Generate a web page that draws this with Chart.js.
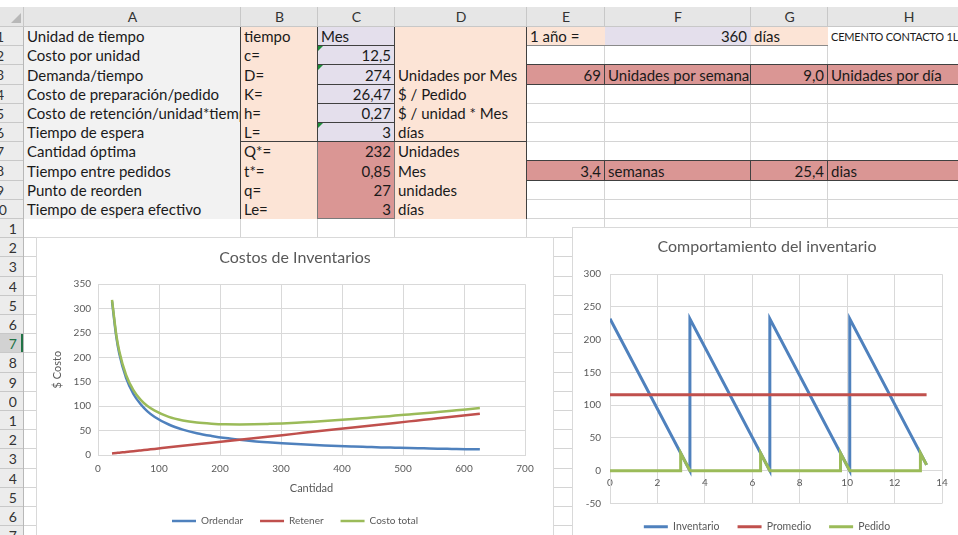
<!DOCTYPE html>
<html>
<head>
<meta charset="utf-8">
<script src="https://cdn.jsdelivr.net/npm/chart.js@4.4.1/dist/chart.umd.min.js"></script>
<style>
	body { margin: 0; width: 958px; height: 535px; overflow: hidden; background: #fff; position: relative; font-family: Lato, "Open Sans", sans-serif; }
	.c { position: absolute; box-sizing: border-box; overflow: hidden; white-space: nowrap; font-size: 15px; color: #1a1a1a; padding: 0 3px; }
	.r { text-align: right; }
	.box { position: absolute; background: #fff; border: 1px solid #d9d9d9; box-sizing: border-box; }
</style>
</head>
<body>
<div id="sheet"></div>
<div class="box" style="left:36px; top:237px; width:518px; height:310px;">
	<canvas id="chartCostos" width="516" height="305"></canvas>
</div>
<div class="box" style="left:572px; top:227px; width:390px; height:330px;">
	<canvas id="chartInventario" width="388" height="323"></canvas>
</div>
<script>
// ---- datos del grafico "Costos de Inventarios" ----
const cantidad = [23, 30, 35, 46, 58, 70, 81, 93, 116, 139, 162, 186, 209, 232, 255, 278, 302, 325, 348, 371, 394, 418, 441, 464, 487, 510, 534, 557, 580, 603, 626];
const costoOrdenar = [315, 242, 207, 158, 125, 104, 89.5, 78, 62.5, 52.1, 44.7, 39.1, 34.7, 31.3, 28.4, 26.1, 24.0, 22.3, 20.8, 19.5, 18.4, 17.4, 16.5, 15.6, 14.9, 14.2, 13.6, 13.0, 12.5, 12.0, 11.6];
const costoRetener = [3.1, 4.1, 4.7, 6.3, 7.8, 9.4, 10.9, 12.5, 15.7, 18.8, 21.9, 25.1, 28.2, 31.3, 34.5, 37.6, 40.7, 43.8, 47.0, 50.1, 53.2, 56.4, 59.5, 62.6, 65.8, 68.9, 72.0, 75.2, 78.3, 81.4, 84.6];
const costoTotal = [318, 246, 212, 164, 133, 113, 100.4, 91, 78.2, 70.9, 66.6, 64.2, 62.9, 62.6, 62.9, 63.7, 64.7, 66.1, 67.8, 69.6, 71.6, 73.8, 76.0, 78.2, 80.7, 83.1, 85.6, 88.2, 90.8, 93.4, 96.2];

// ---- datos del grafico "Comportamiento del inventario" (semanas) ----
const invSemana = [0, 3.37, 3.37, 6.74, 6.74, 10.11, 10.11, 13.35];
const invValor = [232, 0, 232, 0, 232, 0, 232, 9];
const promSemana = [0, 13.35];
const promValor = [116, 116];
const pedSemana = [0, 2.98, 2.98, 3.37, 6.35, 6.35, 6.74, 9.72, 9.72, 10.11, 13.09, 13.09, 13.35];
const pedValor = [0, 0, 27, 0, 0, 27, 0, 0, 27, 0, 0, 27, 9];

// ---- hoja de calculo ----
const colEdges = [24, 241, 318, 395, 527, 605, 751, 828, 990];
const colNames = ["A", "B", "C", "D", "E", "F", "G", "H"];
const NROWS = 27;

const cells = [
	["A", 1, "Unidad de tiempo"], ["B", 1, "tiempo"], ["C", 1, "Mes"], ["E", 1, "1 año ="], ["F", 1, "360", "r"], ["G", 1, "días"], ["H", 1, "CEMENTO CONTACTO 1L", "s"],
	["A", 2, "Costo por unidad"], ["B", 2, "c="], ["C", 2, "12,5", "r"],
	["A", 3, "Demanda/tiempo"], ["B", 3, "D="], ["C", 3, "274", "r"], ["D", 3, "Unidades por Mes"], ["E", 3, "69", "r"], ["F", 3, "Unidades por semana"], ["G", 3, "9,0", "r"], ["H", 3, "Unidades por día"],
	["A", 4, "Costo de preparación/pedido"], ["B", 4, "K="], ["C", 4, "26,47", "r"], ["D", 4, "$ / Pedido"],
	["A", 5, "Costo de retención/unidad*tiempo"], ["B", 5, "h="], ["C", 5, "0,27", "r"], ["D", 5, "$ / unidad * Mes"],
	["A", 6, "Tiempo de espera"], ["B", 6, "L="], ["C", 6, "3", "r"], ["D", 6, "días"],
	["A", 7, "Cantidad óptima"], ["B", 7, "Q*="], ["C", 7, "232", "r"], ["D", 7, "Unidades"],
	["A", 8, "Tiempo entre pedidos"], ["B", 8, "t*="], ["C", 8, "0,85", "r"], ["D", 8, "Mes"], ["E", 8, "3,4", "r"], ["F", 8, "semanas"], ["G", 8, "25,4", "r"], ["H", 8, "dias"],
	["A", 9, "Punto de reorden"], ["B", 9, "q="], ["C", 9, "27", "r"], ["D", 9, "unidades"],
	["A", 10, "Tiempo de espera efectivo"], ["B", 10, "Le="], ["C", 10, "3", "r"], ["D", 10, "días"],
];

const sheet = document.getElementById("sheet");

function rowY(r) {
	return Math.round(27 + 19.2 * (r - 1));
}
function colX(name) {
	return colEdges[colNames.indexOf(name)];
}
function colX2(name) {
	return colEdges[colNames.indexOf(name) + 1];
}
function rect(x, y, w, h, bg) {
	const d = document.createElement("div");
	d.style.cssText = `position:absolute;box-sizing:border-box;left:${x}px;top:${y}px;width:${w}px;height:${h}px;background:${bg};`;
	sheet.appendChild(d);
	return d;
}
function fill(c1, c2, r1, r2, bg) {
	const x = colX(c1), y = rowY(r1);
	rect(x, y, colX2(c2) - x, rowY(r2 + 1) - y, bg);
}
function frame(c1, c2, r1, r2, color) {
	const x = colX(c1), y = rowY(r1), w = colX2(c2) - x, h = rowY(r2 + 1) - y;
	const d = rect(x - 1, y - 1, w + 1, h + 1, "transparent");
	d.style.border = "1px solid " + color;
}

// lineas de cuadricula
colEdges.forEach((x) => rect(x - 1, 7, 1, 528, "#d4d4d4"));
for (let r = 1; r <= NROWS + 1; r++) rect(0, rowY(r) - 1, 958, 1, "#d4d4d4");

// rellenos
const peach = "#fce4d6", lav = "#e4dfec", rosa = "#da9694";
fill("A", "A", 1, 10, "#f2f2f2");
fill("B", "B", 1, 10, peach);
fill("C", "C", 1, 6, lav);
fill("C", "C", 7, 10, rosa);
fill("D", "D", 1, 10, peach);
fill("E", "E", 1, 1, peach);
fill("F", "F", 1, 1, lav);
fill("G", "G", 1, 1, peach);
fill("H", "H", 1, 1, "#fff");
fill("E", "H", 3, 3, rosa);
fill("E", "H", 8, 8, rosa);

// bordes
const dark = "#404040";
for (let r = 1; r <= 6; r++) frame("C", "C", r, r, dark);
frame("C", "C", 7, 10, "#7a7a7a");
rect(colX("B") - 1, rowY(1), 1, rowY(11) - rowY(1), dark);
rect(colX("E") - 1, rowY(1), 1, rowY(11) - rowY(1), dark);
rect(colX("B"), rowY(7) - 1, colX("E") - colX("B"), 1, dark);
["E", "F", "G", "H"].forEach((c) => {
	frame(c, c, 3, 3, dark);
	frame(c, c, 8, 8, dark);
});
rect(colX("E"), rowY(2) - 1, colX("H") - colX("E"), 1, "#8a8a8a");

// triangulos verdes
[2, 3, 6].forEach((r) => {
	const t = rect(colX("C"), rowY(r), 6, 6, "transparent");
	t.style.borderTop = "5px solid #1e8c3a";
	t.style.borderRight = "5px solid transparent";
	t.style.width = "0px";
	t.style.height = "0px";
	t.style.boxSizing = "content-box";
});

// textos de celdas
cells.forEach(([c, r, text, kind]) => {
	const d = document.createElement("div");
	d.className = "c" + (kind === "r" ? " r" : "");
	const x = colX(c), y = rowY(r);
	d.style.left = x + "px";
	d.style.top = y + "px";
	d.style.width = (colX2(c) - x - 1) + "px";
	d.style.height = (rowY(r + 1) - y - 1) + "px";
	d.style.lineHeight = (rowY(r + 1) - y) + "px";
	if (kind === "s") {
		d.style.fontSize = "11px";
		d.style.letterSpacing = "-0.2px";
	}
	d.textContent = text;
	sheet.appendChild(d);
});

// encabezado de columnas
rect(0, 7, 958, 20, "#e6e6e6");
rect(0, 26, 958, 1, "#c8c8c8");
colNames.forEach((n, i) => {
	rect(colEdges[i] - 1, 7, 1, 20, "#c8c8c8");
	const d = document.createElement("div");
	d.className = "c";
	d.style.cssText += `left:${colEdges[i]}px;top:7px;width:${colEdges[i + 1] - colEdges[i]}px;height:20px;line-height:20px;text-align:center;color:#333;font-size:14px;`;
	d.textContent = n;
	sheet.appendChild(d);
});
const corner = rect(11, 13, 0, 0, "transparent");
corner.style.boxSizing = "content-box";
corner.style.borderLeft = "10px solid transparent";
corner.style.borderBottom = "10px solid #b8b8b8";

// encabezado de filas (recortado a la izquierda, solo se ve el ultimo digito)
for (let r = 1; r <= NROWS; r++) {
	const y = rowY(r), h = rowY(r + 1) - y;
	const sel = r === 17;
	rect(0, y, 24, h, sel ? "#d2d2d2" : "#ececec");
	rect(0, y - 1, 24, 1, "#c8c8c8");
	const d = document.createElement("div");
	d.className = "c";
	const right = r < 10 ? 4 : (r === 10 ? 7 : 17);
	const left = r < 11 ? 0 : 9;
	d.style.cssText += `left:${left}px;top:${y}px;width:${right - left}px;height:${h}px;line-height:${h}px;padding:0;direction:rtl;text-align:right;font-size:14px;color:${sel ? "#217346" : "#333"};`;
	d.textContent = String(r);
	sheet.appendChild(d);
	if (sel) rect(21, y, 3, h, "#217346");
}
rect(23, 27, 1, 508, "#b8b8b8");

// ---- graficos ----
Chart.defaults.font.family = "Lato, 'Open Sans', sans-serif";
Chart.defaults.color = "#595959";

const azul = "#4f81bd";
const rojo = "#c0504d";
const verde = "#9bbb59";
const gridColor = "#d9d9d9";

function serie(label, xs, ys, color, order, width) {
	return {
		label: label,
		data: xs.map((x, i) => ({ x: x, y: ys[i] })),
		borderColor: color,
		backgroundColor: color,
		borderWidth: width,
		pointRadius: 0,
		pointStyle: "line",
		showLine: true,
		order: order,
	};
}

function legendOpts(pad, size) {
	return {
		position: "bottom",
		labels: {
			usePointStyle: true,
			pointStyleWidth: 24,
			padding: pad,
			color: "#595959",
			font: { size: size },
			sort: (a, b) => a.datasetIndex - b.datasetIndex,
		},
	};
}

// eje vacio a la derecha: deja el margen derecho sin descentrar titulo y leyenda
function ejeMargen(w) {
	return {
		position: "right",
		display: true,
		min: 0,
		max: 1,
		ticks: { display: false },
		grid: { display: false },
		border: { display: false },
		afterFit: (scale) => { scale.width = w; },
	};
}

const costosDatasets = [
	serie("Ordendar", cantidad, costoOrdenar, azul, 3, 2.5),
	serie("Retener", cantidad, costoRetener, rojo, 2, 2.5),
	serie("Costo total", cantidad, costoTotal, verde, 1, 2.5),
];
costosDatasets.forEach((d) => (d.cubicInterpolationMode = "monotone"));

new Chart(document.getElementById("chartCostos"), {
	type: "scatter",
	data: { datasets: costosDatasets },
	options: {
		responsive: false,
		animation: false,
		devicePixelRatio: 1,
		layout: { padding: { left: 0, right: 0, top: 0, bottom: 7 } },
		plugins: {
			title: {
				display: true,
				text: "Costos de Inventarios",
				color: "#595959",
				font: { size: 16, weight: "normal" },
				padding: { top: 10, bottom: 17 },
			},
			legend: legendOpts(17, 10),
			tooltip: { enabled: false },
		},
		scales: {
			x: {
				type: "linear",
				min: 0,
				max: 700,
				ticks: { stepSize: 100, padding: 8, font: { size: 10 }, color: "#595959" },
				grid: { color: gridColor, drawTicks: false },
				border: { color: gridColor },
				title: { display: true, text: "Cantidad", color: "#595959", font: { size: 11 }, padding: { top: 0, bottom: 4 } },
				afterFit: (scale) => { scale.height = 44; },
			},
			y: {
				min: 0,
				max: 350,
				ticks: { stepSize: 50, padding: 7, font: { size: 10 }, color: "#595959" },
				grid: { color: gridColor, drawTicks: false },
				border: { color: gridColor },
				title: { display: true, text: "$ Costo", color: "#595959", font: { size: 11 }, padding: { top: 14, bottom: 0 } },
				afterFit: (scale) => { scale.width = 61; },
			},
			margen: ejeMargen(28),
		},
	},
});

new Chart(document.getElementById("chartInventario"), {
	type: "scatter",
	data: {
		datasets: [
			serie("Inventario", invSemana, invValor, azul, 3, 3),
			serie("Promedio", promSemana, promValor, rojo, 2, 3),
			serie("Pedido", pedSemana, pedValor, verde, 1, 3),
		],
	},
	options: {
		responsive: false,
		animation: false,
		devicePixelRatio: 1,
		layout: { padding: { left: 0, right: 0, top: 0, bottom: 9 } },
		plugins: {
			title: {
				display: true,
				text: "Comportamiento del inventario",
				color: "#595959",
				font: { size: 16, weight: "normal" },
				padding: { top: 9, bottom: 18 },
			},
			legend: legendOpts(18, 10.5),
			tooltip: { enabled: false },
		},
		scales: {
			x: {
				type: "linear",
				position: { y: 0 },
				min: 0,
				max: 14,
				ticks: { stepSize: 2, padding: 6, font: { size: 10 }, color: "#595959" },
				grid: { color: gridColor, drawTicks: false },
				border: { color: gridColor },
			},
			y: {
				min: -50,
				max: 300,
				ticks: { stepSize: 50, padding: 9, font: { size: 10 }, color: "#595959" },
				grid: { color: gridColor, drawTicks: false },
				border: { color: gridColor },
				afterFit: (scale) => { scale.width = 37; },
			},
			margen: ejeMargen(19),
		},
	},
});
</script>
</body>
</html>
